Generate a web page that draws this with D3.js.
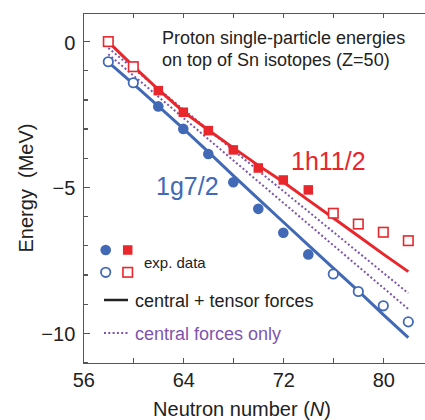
<!DOCTYPE html>
<html>
<head>
<meta charset="utf-8" />
<title>Proton single-particle energies in Sn isotopes</title>
<script src="https://d3js.org/d3.v7.min.js"></script>
<style>
    body {
        margin: 0;
        background: #ffffff;
    }
    svg {
        display: block;
        font-family: "Liberation Sans", Arial, Helvetica, sans-serif;
    }
    .axis path,
    .axis line {
        fill: none;
        stroke: #555;
        stroke-width: 1.2px;
        shape-rendering: crispEdges;
    }
    .axis text {
        font-size: 20px;
        fill: #222;
    }
</style>
</head>
<body>
<svg id="chart" width="425" height="420"></svg>
<script>
    // neutron numbers of the isotopes
    var neutronN = [58, 60, 62, 64, 66, 68, 70, 72, 74, 76, 78, 80, 82];
    // experimental points drawn filled (others are open)
    var filledN = [62, 64, 66, 68, 70, 72, 74];

    // experimental energies (MeV)
    var h11Exp = [-0.02, -0.88, -1.70, -2.44, -3.07, -3.73, -4.35, -4.76, -5.10, -5.90, -6.27, -6.55, -6.84];
    var g7Exp = [-0.71, -1.43, -2.24, -3.01, -3.87, -4.84, -5.75, -6.57, -7.31, -7.98, -8.58, -9.07, -9.62];

    // central + tensor calculation (MeV)
    var h11Calc = [-0.03, -0.86, -1.66, -2.42, -3.05, -3.66, -4.26, -4.83, -5.45, -6.06, -6.68, -7.30, -7.90];
    var g7Calc = [-0.72, -1.47, -2.23, -3.00, -3.80, -4.61, -5.41, -6.20, -6.99, -7.78, -8.56, -9.37, -10.16];

    // central forces only (MeV)
    var centralN = [58, 82];
    var h11Central = [-0.24, -8.64];
    var g7Central = [-0.45, -9.18];

    // ticks
    var xTicks = [56, 60, 64, 68, 72, 76, 80, 84];
    var xLabelTicks = [56, 64, 72, 80];
    var yMinorTicks = [0, -1, -2, -3, -4, -5, -6, -7, -8, -9, -10, -11];
    var yMajorTicks = [0, -5, -10];

    var red = "#e8262b",
        blue = "#4169b6",
        purple = "#7d55ad";

    var svg = d3.select("#chart");

    var x = d3.scaleLinear().domain([56, 84]).range([83.3, 433.3]);
    var y = d3.scaleLinear().domain([-11.03, 0.96]).range([363, 13]);

    // axes (ticks point inwards)
    svg.append("g")
        .attr("class", "axis")
        .attr("transform", "translate(0,363)")
        .call(d3.axisBottom(x).tickValues(xTicks).tickSize(-5).tickPadding(10)
            .tickFormat(function(d) {
                return xLabelTicks.indexOf(d) >= 0 ? d : "";
            }));

    svg.append("g")
        .attr("class", "axis")
        .attr("transform", "translate(0,13)")
        .call(d3.axisTop(x).tickValues(xTicks).tickSize(-5).tickFormat(""));

    svg.append("g")
        .attr("class", "axis")
        .attr("transform", "translate(83.3,0)")
        .call(d3.axisLeft(y).tickValues(yMinorTicks).tickSize(-5).tickFormat(""));

    var yMajor = svg.append("g")
        .attr("class", "axis")
        .attr("transform", "translate(83.3,0)")
        .call(d3.axisLeft(y).tickValues(yMajorTicks).tickSize(-7).tickPadding(8)
            .tickFormat(d3.format("d")));
    yMajor.selectAll("text").attr("dy", "0.4em");

    // axis titles
    svg.append("text")
        .attr("transform", "translate(33,188) rotate(-90)")
        .attr("text-anchor", "middle")
        .attr("font-size", "20px")
        .attr("fill", "#222")
        .attr("xml:space", "preserve")
        .text("Energy  (MeV)");

    var xTitle = svg.append("text")
        .attr("x", 242)
        .attr("y", 416)
        .attr("text-anchor", "middle")
        .attr("font-size", "20px")
        .attr("fill", "#222");
    xTitle.append("tspan").text("Neutron number (");
    xTitle.append("tspan").attr("font-style", "italic").text("N");
    xTitle.append("tspan").text(")");

    // lines
    var line = d3.line()
        .x(function(d) { return x(d[0]); })
        .y(function(d) { return y(d[1]); });

    function pairs(ns, es) {
        return ns.map(function(n, i) { return [n, es[i]]; });
    }

    [h11Central, g7Central].forEach(function(es) {
        svg.append("path")
            .attr("d", line(pairs(centralN, es)))
            .attr("fill", "none")
            .attr("stroke", purple)
            .attr("stroke-width", 2)
            .attr("stroke-dasharray", "2,2.3");
    });

    svg.append("path")
        .attr("d", line(pairs(neutronN, h11Calc)))
        .attr("fill", "none")
        .attr("stroke", red)
        .attr("stroke-width", 3);

    svg.append("path")
        .attr("d", line(pairs(neutronN, g7Calc)))
        .attr("fill", "none")
        .attr("stroke", blue)
        .attr("stroke-width", 3);

    // experimental points
    var sq = 9.5;
    svg.selectAll(".h11")
        .data(pairs(neutronN, h11Exp))
        .enter().append("rect")
        .attr("class", "h11")
        .attr("x", function(d) { return x(d[0]) - sq / 2; })
        .attr("y", function(d) { return y(d[1]) - sq / 2; })
        .attr("width", sq)
        .attr("height", sq)
        .attr("fill", function(d) { return filledN.indexOf(d[0]) >= 0 ? red : "#fff"; })
        .attr("stroke", red)
        .attr("stroke-width", function(d) { return filledN.indexOf(d[0]) >= 0 ? 0 : 1.6; });

    svg.selectAll(".g7")
        .data(pairs(neutronN, g7Exp))
        .enter().append("circle")
        .attr("class", "g7")
        .attr("cx", function(d) { return x(d[0]); })
        .attr("cy", function(d) { return y(d[1]); })
        .attr("r", function(d) { return filledN.indexOf(d[0]) >= 0 ? 5.3 : 4.7; })
        .attr("fill", function(d) { return filledN.indexOf(d[0]) >= 0 ? blue : "#fff"; })
        .attr("stroke", blue)
        .attr("stroke-width", function(d) { return filledN.indexOf(d[0]) >= 0 ? 0 : 1.8; });

    // labels
    svg.append("text")
        .attr("x", 162).attr("y", 43.5)
        .attr("font-size", "18px").attr("fill", "#222")
        .text("Proton single-particle energies");
    svg.append("text")
        .attr("x", 162).attr("y", 65.5)
        .attr("font-size", "18px").attr("fill", "#222")
        .text("on top of Sn isotopes (Z=50)");

    svg.append("text")
        .attr("x", 291).attr("y", 170)
        .attr("font-size", "25px").attr("fill", red)
        .text("1h11/2");
    svg.append("text")
        .attr("x", 156).attr("y", 195)
        .attr("font-size", "25px").attr("fill", blue)
        .text("1g7/2");

    // legend
    var legend = svg.append("g").attr("class", "legend");
    legend.append("circle").attr("cx", 105.7).attr("cy", 250).attr("r", 5.3).attr("fill", blue);
    legend.append("rect").attr("x", 127.7 - sq / 2).attr("y", 250 - sq / 2)
        .attr("width", sq).attr("height", sq).attr("fill", red);
    legend.append("circle").attr("cx", 105.7).attr("cy", 272.3).attr("r", 4.7)
        .attr("fill", "#fff").attr("stroke", blue).attr("stroke-width", 1.8);
    legend.append("rect").attr("x", 127.7 - sq / 2).attr("y", 272.3 - sq / 2)
        .attr("width", sq).attr("height", sq).attr("fill", "#fff")
        .attr("stroke", red).attr("stroke-width", 1.6);
    legend.append("text").attr("x", 144).attr("y", 268)
        .attr("font-size", "15px").attr("fill", "#222").text("exp. data");

    legend.append("line").attr("x1", 104).attr("x2", 128).attr("y1", 300).attr("y2", 300)
        .attr("stroke", "#222").attr("stroke-width", 2.5);
    legend.append("text").attr("x", 135).attr("y", 306.5)
        .attr("font-size", "18px").attr("fill", "#222").text("central + tensor forces");

    legend.append("line").attr("x1", 104).attr("x2", 128).attr("y1", 333).attr("y2", 333)
        .attr("stroke", purple).attr("stroke-width", 2).attr("stroke-dasharray", "2,2.3");
    legend.append("text").attr("x", 135).attr("y", 339.5)
        .attr("font-size", "18px").attr("fill", purple).text("central forces only");
</script>
</body>
</html>
